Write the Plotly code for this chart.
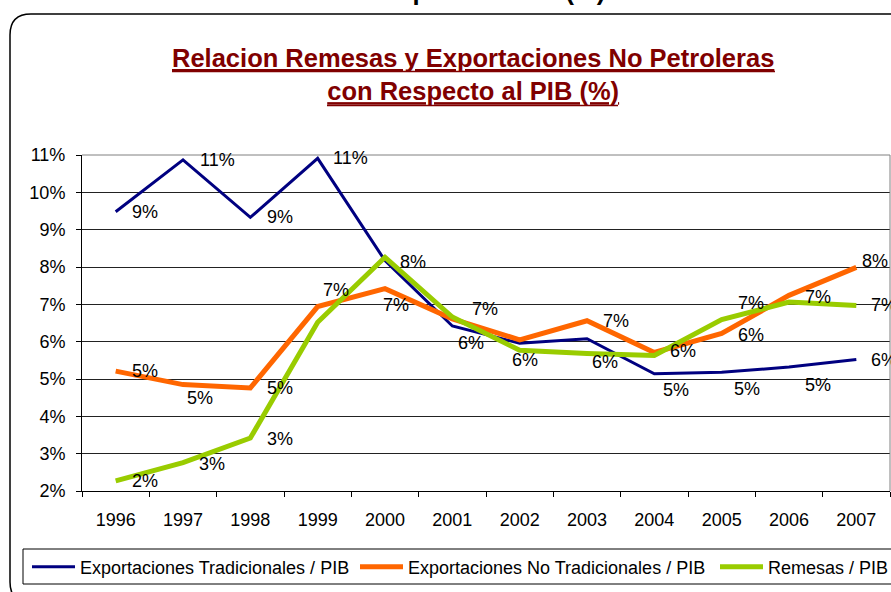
import plotly.graph_objects as go

years = ["1996", "1997", "1998", "1999", "2000", "2001", "2002", "2003", "2004", "2005", "2006", "2007"]
trad = [9.48, 10.87, 9.33, 10.91, 8.17, 6.42, 5.96, 6.08, 5.14, 5.18, 5.32, 5.52]
no_trad = [5.21, 4.85, 4.76, 6.94, 7.42, 6.61, 6.05, 6.56, 5.71, 6.22, 7.24, 7.99]
remesas = [2.27, 2.76, 3.42, 6.52, 8.26, 6.66, 5.77, 5.68, 5.63, 6.59, 7.06, 6.97]
y_ticks = [2, 3, 4, 5, 6, 7, 8, 9, 10, 11]
y_tick_labels = ["2%", "3%", "4%", "5%", "6%", "7%", "8%", "9%", "10%", "11%"]

names = ["Exportaciones Tradicionales / PIB", "Exportaciones No Tradicionales / PIB", "Remesas / PIB"]
colors = ["#000080", "#FF6600", "#99CC00"]
widths = [3, 5, 5]

# label offsets (px) relative to each point: (dx, dy downward); None = label hidden behind another
lab_trad = [(16, 0), (17, 0), (17, 0), (15, 0), None, (6, 17), None, None, (9, 16), (12, 17), (16, 18), (15, 0)]
lab_notrad = [(16, 0), (4, 13), (17, 0), (5, -17), (-2, 16), None, None, (16, 0), (16, -1), (16, 2), (16, 2), (6, -6)]
lab_rem = [(16, 0), (16, 1), (17, 1), None, (15, 5), (20, -8), (-8, 10), (5, 8), None, (16, -17), None, (15, 0)]

FONT = "Liberation Sans, Arial, sans-serif"
W, H = 891, 592
L, R, T, B = 82, 890, 155, 491


def px(x):
    return (x - L) / (R - L)


def py(y):
    return (B - y) / (B - T)


fig = go.Figure()
series = [trad, no_trad, remesas]
labels = [lab_trad, lab_notrad, lab_rem]
legends = ["legend", "legend2", "legend3"]
for i in range(3):
    fig.add_trace(go.Scatter(
        x=years, y=series[i], mode="lines", name=names[i],
        line=dict(color=colors[i], width=widths[i]),
        legend=legends[i], hoverinfo="skip",
    ))

annotations = []
for vals, labs in zip(series, labels):
    for idx, (v, lab) in enumerate(zip(vals, labs)):
        if lab is None:
            continue
        annotations.append(dict(
            x=idx, y=v, xref="x", yref="y", text=str(int(v + 0.5)) + "%",
            showarrow=False, xanchor="left", yanchor="middle",
            xshift=lab[0] - 2, yshift=-lab[1],
            font=dict(family=FONT, size=18, color="#000000"),
        ))

# clipped heading of the page above the chart
annotations.append(dict(
    x=px(457), y=py(-9), xref="paper", yref="paper", showarrow=False,
    text="<b>Con Respecto al PIB (%)</b>", xanchor="center", yanchor="middle",
    font=dict(family=FONT, size=25.5, color="#000000"),
))
# chart title
annotations.append(dict(
    x=px(473), y=py(75), xref="paper", yref="paper", showarrow=False,
    text="<b><u>Relacion Remesas y Exportaciones No Petroleras</u></b><br><b><u>con Respecto al PIB (%)</u></b>",
    xanchor="center", yanchor="middle",
    font=dict(family=FONT, size=25.5, color="#800000"),
))

shapes = [
    # outer rounded frame
    dict(type="path", xref="paper", yref="paper",
         path=(f"M {px(930)},{py(603)} L {px(31)},{py(603)} Q {px(10)},{py(603)} {px(10)},{py(582)} "
               f"L {px(10)},{py(35)} Q {px(10)},{py(14)} {px(31)},{py(14)} L {px(930)},{py(14)}"),
         line=dict(color="#000000", width=1.5)),
    # legend box
    dict(type="rect", xref="paper", yref="paper", x0=px(23), x1=px(930), y0=py(584), y1=py(549),
         line=dict(color="#000000", width=1)),
    # plot area border (top, right)
    dict(type="line", xref="paper", yref="paper", x0=0, x1=1, y0=1, y1=1,
         line=dict(color="#808080", width=1), layer="above"),
    dict(type="line", xref="paper", yref="paper", x0=1, x1=1, y0=0, y1=1,
         line=dict(color="#808080", width=1), layer="above"),
    # second line of the double underline
    dict(type="line", xref="paper", yref="paper", x0=px(172), x1=px(775), y0=py(71.5), y1=py(71.5),
         line=dict(color="#800000", width=1.5)),
    dict(type="line", xref="paper", yref="paper", x0=px(327), x1=px(618), y0=py(105.5), y1=py(105.5),
         line=dict(color="#800000", width=1.5)),
]

ITEM_W = 43
leg_common = dict(orientation="h", xanchor="left", yanchor="middle", bgcolor="rgba(0,0,0,0)",
                  borderwidth=0, itemwidth=ITEM_W,
                  font=dict(family=FONT, size=18, color="#000000"))
text_lefts = [80, 408, 768]

fig.update_layout(
    width=W, height=H,
    margin=dict(l=L, r=W - R, t=T, b=H - B, pad=0, autoexpand=False),
    paper_bgcolor="#FFFFFF", plot_bgcolor="#FFFFFF",
    showlegend=True,
    legend=dict(x=px(text_lefts[0] - ITEM_W - 10), y=py(567), **leg_common),
    legend2=dict(x=px(text_lefts[1] - ITEM_W - 10), y=py(567), **leg_common),
    legend3=dict(x=px(text_lefts[2] - ITEM_W - 10), y=py(567), **leg_common),
    xaxis=dict(type="category", categoryorder="array", categoryarray=years,
               range=[-0.5, len(years) - 0.5], showgrid=False, automargin=False,
               showline=True, linecolor="#000000", linewidth=1,
               ticks="outside", ticklen=5, tickcolor="#000000", tickson="boundaries",
               ticklabelstandoff=12,
               tickfont=dict(family=FONT, size=18, color="#000000")),
    yaxis=dict(range=[2, 11], tickmode="array", tickvals=y_ticks, ticktext=y_tick_labels,
               showgrid=True, gridcolor="#222222", gridwidth=1, automargin=False,
               showline=True, linecolor="#000000", linewidth=1,
               ticks="outside", ticklen=5, tickcolor="#000000",
               ticklabelstandoff=7, zeroline=False,
               tickfont=dict(family=FONT, size=18, color="#000000")),
    annotations=annotations,
    shapes=shapes,
)

fig.write_html("out.html", config={"displayModeBar": False},
               post_script="document.body.style.margin='0';")
